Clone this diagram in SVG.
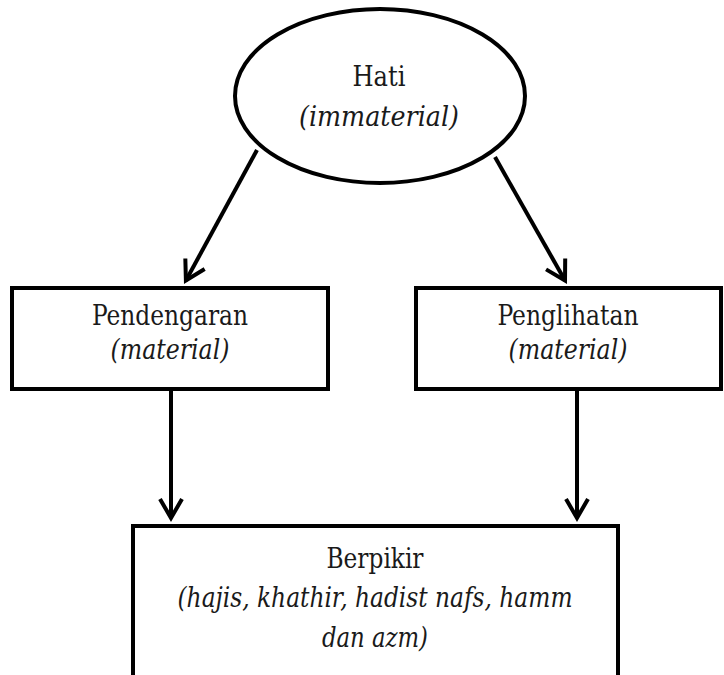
<svg xmlns="http://www.w3.org/2000/svg" width="724" height="675" viewBox="0 0 724 675">
  <style>
    .shape { fill: #ffffff; stroke: #000000; stroke-width: 4; }
    .conn { fill: none; stroke: #000000; stroke-width: 4; }
    .t { font-family: 'DejaVu Serif Condensed', 'DejaVu Serif', serif; font-stretch: condensed; font-size: 28px; fill: #1a1a1a; text-anchor: middle; }
    .i { font-style: italic; }
  </style>
  <defs>
    <marker id="arrow" markerUnits="userSpaceOnUse" markerWidth="40" markerHeight="40" viewBox="-30 -20 40 40" refX="0" refY="0" orient="auto" overflow="visible">
      <path d="M -19,-11 L 0,0 L -19,11" fill="none" stroke="#000000" stroke-width="4" stroke-linejoin="miter" stroke-linecap="butt"/>
    </marker>
  </defs>
  <rect x="0" y="0" width="724" height="675" fill="#ffffff"/>

  <g id="connectors">
    <line class="conn" x1="257" y1="150" x2="185.9" y2="280.5" marker-end="url(#arrow)"/>
    <line class="conn" x1="495" y1="157" x2="565" y2="280.5" marker-end="url(#arrow)"/>
    <line class="conn" x1="171" y1="391" x2="171" y2="518" marker-end="url(#arrow)"/>
    <line class="conn" x1="577" y1="391" x2="577" y2="518" marker-end="url(#arrow)"/>
  </g>

  <g id="hati">
    <ellipse class="shape" cx="380" cy="96" rx="145" ry="87"/>
    <text class="t" x="379" y="86" textLength="53" lengthAdjust="spacingAndGlyphs">Hati</text>
    <text class="t i" x="379" y="126" textLength="160" lengthAdjust="spacingAndGlyphs">(immaterial)</text>
  </g>

  <g id="pendengaran">
    <rect class="shape" x="12" y="288" width="316" height="101"/>
    <text class="t" x="170" y="325" textLength="156" lengthAdjust="spacingAndGlyphs">Pendengaran</text>
    <text class="t i" x="170" y="359" textLength="119" lengthAdjust="spacingAndGlyphs">(material)</text>
  </g>

  <g id="penglihatan">
    <rect class="shape" x="416" y="288" width="305" height="101"/>
    <text class="t" x="568" y="325" textLength="141" lengthAdjust="spacingAndGlyphs">Penglihatan</text>
    <text class="t i" x="568" y="359" textLength="119" lengthAdjust="spacingAndGlyphs">(material)</text>
  </g>

  <g id="berpikir">
    <rect class="shape" x="133" y="526" width="485" height="170"/>
    <text class="t" x="375" y="568" textLength="97" lengthAdjust="spacingAndGlyphs">Berpikir</text>
    <text class="t i" x="375" y="607" textLength="395" lengthAdjust="spacingAndGlyphs">(hajis, khathir, hadist nafs, hamm</text>
    <text class="t i" x="375" y="647" textLength="106" lengthAdjust="spacingAndGlyphs">dan azm)</text>
  </g>
</svg>
